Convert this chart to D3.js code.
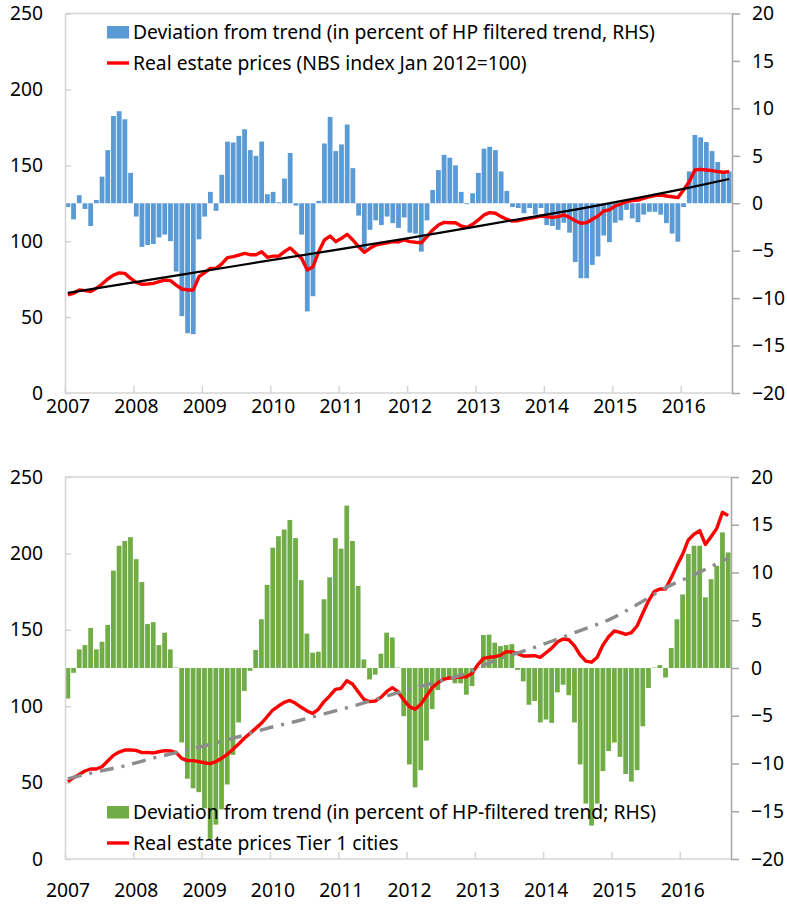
<!DOCTYPE html>
<html>
<head>
<meta charset="utf-8">
<script src="https://cdn.jsdelivr.net/npm/d3@7"></script>
<style>
    body { margin: 0; background: #fff; }
    svg text { font-family: "Noto Sans", "Open Sans", sans-serif; fill: #000; }
</style>
</head>
<body>
<div id="chart"></div>
<script>
// monthly data, Jan 2007 .. Sep 2016 (117 months)
const yearLabels = ["2007", "2008", "2009", "2010", "2011", "2012", "2013", "2014", "2015", "2016"];
const leftTicks = [0, 50, 100, 150, 200, 250];
const rightTicks = [-20, -15, -10, -5, 0, 5, 10, 15, 20];

// top panel: NBS index
const nbsDeviation = [
    -0.4, -1.7, 0.85, -0.6, -2.4, 0.35, 2.8, 5.6, 9.2, 9.7, 8.85, 3.2,
    -1.4, -4.6, -4.4, -4.3, -3.6, -3.3, -4.0, -7.2, -11.9, -13.7, -13.8, -3.8,
    -1.4, 1.2, -0.8, 3.0, 6.5, 6.4, 7.1, 7.8, 5.6, 5.0, 6.5, 0.95,
    1.2, 0.1, 2.6, 5.3, -0.25, -3.3, -11.4, -9.8, 0.25, 6.3, 9.1, 5.5,
    6.2, 8.3, 3.7, -1.3, -4.9, -2.8, -1.8, -2.3, -1.4, -2.1, -2.6, -1.5,
    -3.1, -3.2, -5.1, -1.8, 1.4, 3.5, 5.1, 4.8, 4.0, 1.2, -0.1, 1.05,
    3.2, 5.75, 5.95, 5.6, 3.35, 1.3, -0.4, -0.5, -1.05, -0.5, -1.2, -0.5,
    -2.3, -2.4, -2.8, -2.05, -3.1, -6.2, -7.9, -7.9, -6.5, -5.6, -3.4, -4.1,
    -2.05, -1.8, -0.7, -1.6, -2.0, -1.2, -0.9, -0.9, -1.2, -2.1, -3.2, -4.05,
    -0.4, 3.35, 7.2, 6.95, 6.45, 5.5, 4.35, 3.35, 3.35
];
const nbsPrices = [
    64.6, 65.7, 67.9, 67.4, 66.8, 69, 71.8, 75.1, 77.7, 79.1, 78.8, 75.5,
    72.9, 71.6, 71.8, 72.2, 73.3, 74.4, 74, 71.1, 68.5, 67.9, 67.9, 76.6,
    79.3, 82.1, 82.1, 85, 89.2, 89.8, 90.9, 92, 91.1, 91.1, 93.1, 89.4,
    90.2, 90.2, 93.1, 95.6, 92, 88.7, 81, 83.2, 93.1, 100.8, 103.4, 99.7,
    101.9, 104.5, 100.8, 96.4, 92.7, 95.3, 97.5, 98.2, 99, 99.7, 99.5, 100.8,
    99.7, 99.3, 99, 103, 107.4, 110.7, 112.4, 112.2, 112.2, 110, 109.1, 111.1,
    114, 117.3, 118.8, 118.4, 116.2, 114.4, 113.2, 113.5, 114.4, 115, 115.7, 116.6,
    116.2, 115.7, 116.2, 117.3, 115.7, 113.5, 111.8, 112.2, 114.4, 116.6, 119.9, 120.6,
    123.2, 124.5, 126, 126.7, 127.1, 128.2, 129.3, 130, 130.4, 129.8, 129.3, 128.7,
    133.7, 139.2, 146.9, 147.3, 146.9, 146.5, 145.8, 145.4, 145.8
];
const nbsTrendMonths = [0, 20, 39, 59, 78, 90, 100, 108, 116];
const nbsTrendValues = [66, 78, 89.5, 101.5, 113.8, 121.5, 128.5, 134.5, 141];

// bottom panel: tier 1 cities
const tierDeviation = [
    -3.2, -0.5, 1.95, 2.4, 4.2, 1.95, 2.75, 4.5, 10.2, 12.8, 13.3, 13.7,
    11.4, 9.0, 4.6, 4.8, 2.4, 3.7, 1.95, 0.05, -7.8, -11.6, -12.6, -13.0,
    -14.7, -17.9, -16.4, -14.8, -12.2, -9.1, -5.7, -2.4, -0.3, 1.9, 5.1, 8.7,
    12.6, 13.8, 14.5, 15.5, 13.6, 9.2, 3.6, 1.6, 1.7, 7.2, 9.5, 13.6,
    12.5, 17.0, 13.3, 8.6, 0.9, -1.2, -0.7, 1.5, 3.7, 3.2, 0.05, -5.05,
    -10.1, -12.5, -10.7, -7.6, -4.3, -2.3, -1.1, -1.2, -1.6, -1.6, -2.8, -1.9,
    0.05, 3.45, 3.5, 2.65, 2.3, 2.4, 2.5, -0.2, -1.4, -3.85, -3.45, -5.7,
    -5.4, -5.75, -2.55, -1.75, -2.85, -5.7, -10.1, -14.2, -16.5, -14.2, -10.8, -8.7,
    -7.8, -9.3, -11.1, -11.9, -10.7, -6.1, -2.1, 0.05, 0.3, -1.0, 2.1, 5.1,
    7.7, 11.95, 12.8, 12.8, 7.4, 9.3, 10.7, 14.2, 12.1
];
const tierPrices = [
    50.6, 53.2, 55.4, 57.6, 58.9, 58.9, 60.4, 64.1, 67.8, 70, 71.3, 71.3,
    71.1, 69.6, 69.8, 69.4, 70.2, 70.9, 70.7, 69.8, 65.9, 64.4, 64.4, 63.7,
    63, 62.4, 63.7, 65.9, 68.5, 71.8, 75.3, 79, 82.2, 85.5, 88.8, 93.1,
    97.5, 100.1, 102.5, 103.8, 101.9, 99.3, 96.9, 95.3, 98, 103, 106.7, 111,
    111.7, 116.7, 114.5, 109.5, 104.5, 103, 103.4, 105.8, 109.5, 112.1, 109.5, 104.1,
    99.7, 98, 101.2, 106.7, 112.1, 115.4, 117.6, 118.5, 118.7, 119.1, 119.3, 121.5,
    127, 131.3, 132, 132.4, 133.3, 135.7, 135.5, 134.4, 132.9, 132.9, 133.1, 132,
    135, 138, 142, 144, 143.5, 139.5, 133.5, 129.5, 128.8, 132, 140, 145.5,
    149.2, 148.3, 147, 148.1, 152.5, 160.8, 168.8, 175, 176.7, 176.7, 184.1, 192,
    199.4, 208.8, 212.5, 214.9, 205.9, 210.9, 216.4, 226.9, 224.7
];
const tierTrendMonths = [0, 5, 10, 15, 20, 25, 30, 35, 40, 45, 50, 55, 60, 65, 70, 75, 80, 85, 90, 95, 100, 105, 110, 116];
const tierTrendValues = [52.5, 57, 61, 66, 70.5, 75, 80, 85.5, 90, 95, 100, 105.5, 111, 116, 121.5, 130, 136, 142.5, 149.5, 156.5, 166.5, 177.5, 186, 197];

const nbsLegend = ["Deviation from trend (in percent of HP filtered trend, RHS)", "Real estate prices (NBS index Jan 2012=100)"];
const tierLegend = ["Deviation from trend (in percent of HP-filtered trend; RHS)", "Real estate prices Tier 1 cities"];

(function drawCharts() {
    const width = 787;
    const height = 906;
    const fontSize = 19.3;
    const lightAxis = "#d4d4d4";
    const darkAxis = "#a6a6a6";

    const svg = d3.select("#chart").append("svg")
        .attr("width", width)
        .attr("height", height);

    function drawPanel(cfg) {
        const g = svg.append("g");
        const x = d3.scaleBand()
            .domain(d3.range(cfg.deviation.length))
            .range([cfg.left, cfg.right])
            .paddingInner(0.16)
            .paddingOuter(0.08);
        const mid = i => x(i) + x.bandwidth() / 2;
        const yLeft = d3.scaleLinear().domain([0, 250]).range([cfg.bottom, cfg.top]);
        const yRight = d3.scaleLinear().domain([-20, 20]).range([cfg.bottom, cfg.top]);

        // frame: top border
        g.append("line")
            .attr("x1", cfg.left).attr("x2", cfg.right)
            .attr("y1", cfg.top).attr("y2", cfg.top)
            .attr("stroke", lightAxis).attr("stroke-width", 1.5);

        // bars
        g.append("g").selectAll("rect")
            .data(cfg.deviation)
            .join("rect")
            .attr("x", (d, i) => x(i))
            .attr("width", x.bandwidth())
            .attr("y", d => yRight(Math.max(0, d)))
            .attr("height", d => Math.abs(yRight(d) - yRight(0)))
            .attr("fill", cfg.barColor);

        // left axis (ticks point inward)
        const leftAxis = g.append("g")
            .attr("transform", `translate(${cfg.left},0)`)
            .call(d3.axisLeft(yLeft).tickValues(leftTicks).tickSize(-6).tickSizeOuter(0).tickPadding(22));
        leftAxis.selectAll("path, line").attr("stroke", lightAxis).attr("stroke-width", 1.5);
        leftAxis.selectAll("text").attr("font-size", fontSize).attr("font-family", null);

        // right axis
        const rightAxis = g.append("g")
            .attr("transform", `translate(${cfg.right},0)`)
            .call(d3.axisRight(yRight).tickValues(rightTicks).tickSize(8).tickSizeOuter(0).tickPadding(12));
        rightAxis.selectAll("path, line").attr("stroke", darkAxis).attr("stroke-width", 1.5);
        rightAxis.selectAll("text").attr("font-size", fontSize).attr("font-family", null);

        // bottom axis with year ticks pointing up
        const step = x.step();
        const yearX = d3.scaleLinear().domain([0, yearLabels.length]).range([cfg.left, cfg.left + step * 12 * yearLabels.length]);
        const bottomAxis = g.append("g")
            .attr("transform", `translate(0,${cfg.bottom})`)
            .call(d3.axisBottom(yearX).tickValues(d3.range(yearLabels.length)).tickSize(-7).tickSizeOuter(0).tickFormat(""));
        bottomAxis.select(".domain").attr("d", `M${cfg.left},0H${cfg.right}`);
        bottomAxis.selectAll("path, line").attr("stroke", lightAxis).attr("stroke-width", 1.5);

        g.append("g").selectAll("text")
            .data(yearLabels)
            .join("text")
            .attr("x", (d, i) => yearX(i) + 3)
            .attr("y", cfg.yearY)
            .attr("text-anchor", "middle")
            .attr("dominant-baseline", "central")
            .attr("font-size", fontSize)
            .text(d => d);

        // price line
        const priceLine = d3.line()
            .x((d, i) => mid(i))
            .y(d => yLeft(d));
        g.append("path")
            .datum(cfg.prices)
            .attr("d", priceLine)
            .attr("fill", "none")
            .attr("stroke", "#ff0000")
            .attr("stroke-width", 3.4)
            .attr("stroke-linejoin", "round");

        // trend line
        const trendLine = d3.line()
            .x(d => mid(d[0]))
            .y(d => yLeft(d[1]))
            .curve(d3.curveMonotoneX);
        g.append("path")
            .datum(d3.zip(cfg.trendMonths, cfg.trendValues))
            .attr("d", trendLine)
            .attr("fill", "none")
            .attr("stroke", cfg.trendColor)
            .attr("stroke-width", cfg.trendWidth)
            .attr("stroke-dasharray", cfg.trendDash);

        // legend
        const lg = g.append("g");
        lg.append("rect")
            .attr("x", 107).attr("y", cfg.legendY[0] - 13)
            .attr("width", 22).attr("height", 12.5)
            .attr("fill", cfg.barColor);
        lg.append("line")
            .attr("x1", 107).attr("x2", 129)
            .attr("y1", cfg.legendY[1] - 7).attr("y2", cfg.legendY[1] - 7)
            .attr("stroke", "#ff0000").attr("stroke-width", 3.4);
        lg.selectAll("text")
            .data(cfg.legend)
            .join("text")
            .attr("x", 133)
            .attr("y", (d, i) => cfg.legendY[i])
            .attr("font-size", fontSize)
            .text(d => d);
    }

    drawPanel({
        left: 65, right: 732, top: 13.5, bottom: 393, yearY: 405,
        deviation: nbsDeviation, prices: nbsPrices,
        trendMonths: nbsTrendMonths, trendValues: nbsTrendValues,
        barColor: "#5b9bd5", trendColor: "#000", trendWidth: 2.2, trendDash: null,
        legend: nbsLegend, legendY: [39, 70]
    });

    drawPanel({
        left: 65, right: 731, top: 477, bottom: 859, yearY: 889,
        deviation: tierDeviation, prices: tierPrices,
        trendMonths: tierTrendMonths, trendValues: tierTrendValues,
        barColor: "#70ad47", trendColor: "#8c8c8c", trendWidth: 3.4, trendDash: "14 8 3 8",
        legend: tierLegend, legendY: [819, 850]
    });
}());
</script>
</body>
</html>
